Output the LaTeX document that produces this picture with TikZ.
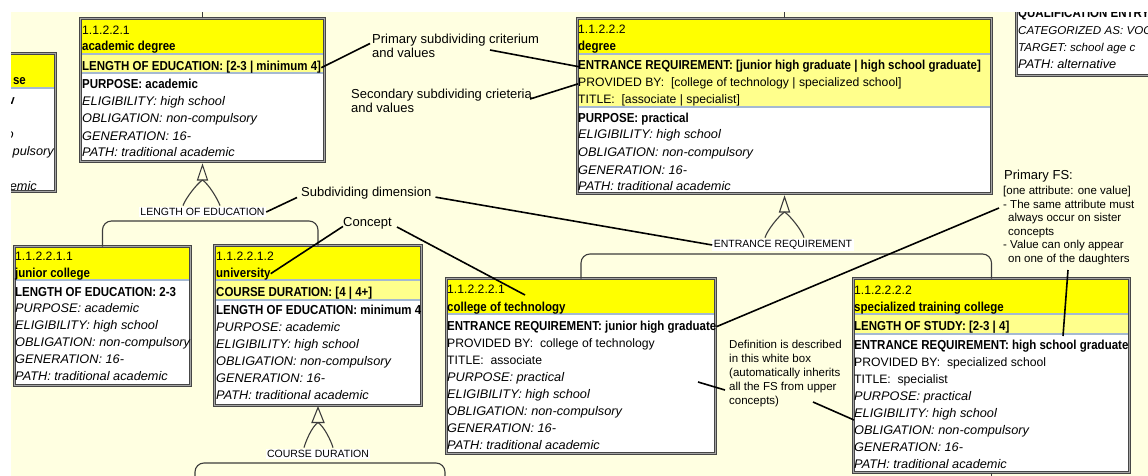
\documentclass[tikz,border=0pt]{standalone}
\usepackage{fontspec}
\setmainfont{Liberation Sans}
\newfontfamily\boldfam[FakeStretch=0.885]{Liberation Sans}
\newfontfamily\italfam[FakeStretch=1.02]{Liberation Sans}
\usetikzlibrary{fit,calc}
\definecolor{bgc}{RGB}{255,255,225}
\definecolor{hdrc}{RGB}{255,255,0}
\definecolor{bandc}{RGB}{255,255,140}
\definecolor{sepc}{RGB}{165,185,210}
\definecolor{framec}{RGB}{70,70,70}
\definecolor{framein}{RGB}{165,165,165}
\definecolor{treec}{RGB}{60,60,60}
\tikzset{
 txr/.style={anchor=base west, inner sep=0pt, font=\fontsize{12.2}{14}\selectfont},
 txb/.style={anchor=base west, inner sep=0pt, font=\boldfam\fontsize{13}{15}\selectfont\bfseries},
 txi/.style={anchor=base west, inner sep=0pt, font=\italfam\fontsize{12.5}{15}\selectfont\itshape},
 txis/.style={anchor=base west, inner sep=0pt, font=\italfam\fontsize{11.4}{15}\selectfont\itshape},
 ann/.style={anchor=base west, inner sep=0pt, font=\fontsize{13}{15}\selectfont},
 annsm/.style={anchor=base west, inner sep=0pt, font=\fontsize{11.5}{14}\selectfont},
 lbl/.style={fill=white, inner sep=1.5pt, font=\fontsize{10.5}{12}\selectfont},
 frame/.style={draw=framec, double=framein, double distance=1.2pt, line width=0.9pt, inner sep=-1.5pt, outer sep=0pt, rectangle},
 sepline/.style={draw=sepc, line width=1.3pt},
 tree/.style={draw=treec, line width=1.1pt},
 ptr/.style={draw=black, line width=1.6pt},
}
\newcommand\conceptbox[7]{%
 \fill[white] (#2,#3) rectangle (#4,#5);
 \fill[hdrc] (#2,#3) rectangle (#4,#6);
 \fill[bandc] (#2,#6) rectangle (#4,#7);
 \draw[sepline] (#2,#6) -- (#4,#6);
 \draw[sepline] (#2,#7) -- (#4,#7);
 \node[frame, fit={(#2,#3) (#4,#5)}] (#1) {};
}
\begin{document}
\begin{tikzpicture}[x=1pt,y=-1pt]
\useasboundingbox (0,0) rectangle (1148,476);
\fill[white] (0,0) rectangle (1148,476);
\begin{scope}
\clip (11,13) rectangle (1148,476);
\fill[bgc] (0,0) rectangle (1148,476);
\coordinate (top) at (0,0);
\coordinate (bot) at (0,490);

% ---------- left partial box
\conceptbox{L}{-100}{52}{57}{193}{88}{88}
\node[txb, anchor=base east] (L1) at (26,85) {se};
\node[txb, anchor=base east] (L2) at (15,105) {v};
\node[txi, anchor=base east] (L3) at (14,139) {o};
\node[txi, anchor=base east] (L4) at (54,156) {pulsory};
\node[txi, anchor=base east] (L5) at (37,190) {emic};

% ---------- top right partial box
\conceptbox{Q}{1015}{-40}{1220}{77}{-20}{-20}
\node[txb] (Q1) at (1018,18) {QUALIFICATION ENTRY};
\node[txis] (Q2) at (1018,35) {CATEGORIZED AS: VOC};
\node[txis] (Q3) at (1018,52) {TARGET: school age c};
\node[txi] (Q4) at (1018,69) {PATH: alternative};

% ---------- box A
\conceptbox{A}{79}{17}{326}{163}{54}{73}
\node[txr] (A1) at (82,35) {1.1.2.2.1};
\node[txb] (A2) at (82,51) {academic degree};
\node[txb] (A3) at (82,71) {LENGTH OF EDUCATION: [2-3 | minimum 4]};
\node[txb] (A4) at (82,89) {PURPOSE: academic};
\node[txi] (A5) at (82,106) {ELIGIBILITY: high school};
\node[txi] (A6) at (82,123) {OBLIGATION: non-compulsory};
\node[txi] (A7) at (82,140) {GENERATION: 16-};
\node[txi] (A8) at (82,157) {PATH: traditional academic};

% ---------- box B
\conceptbox{B}{576}{17}{993}{195}{54}{107}
\node[txr] (B1) at (578,34) {1.1.2.2.2};
\node[txb] (B2) at (578,51) {degree};
\node[txb] (B3) at (578,70) {ENTRANCE REQUIREMENT: [junior high graduate | high school graduate]};
\node[txr] (B4) at (578,87) {PROVIDED BY:\ \ [college of technology | specialized school]};
\node[txr] (B5) at (578,104) {TITLE:\ \ [associate | specialist]};
\node[txb] (B6) at (578,123) {PURPOSE: practical};
\node[txi] (B7) at (578,139) {ELIGIBILITY: high school};
\node[txi] (B8) at (578,157) {OBLIGATION: non-compulsory};
\node[txi] (B9) at (578,174) {GENERATION: 16-};
\node[txi] (B10) at (578,190) {PATH: traditional academic};

% ---------- box C
\conceptbox{C}{445}{277}{717}{455}{314}{314}
\node[txr] (C1) at (447,293) {1.1.2.2.2.1};
\node[txb] (C2) at (447,311) {college of technology};
\node[txb] (C3) at (447,330) {ENTRANCE REQUIREMENT: junior high graduate};
\node[txr] (C4) at (447,347) {PROVIDED BY:\ \ college of technology};
\node[txr] (C5) at (447,364) {TITLE:\ \ associate};
\node[txi] (C6) at (447,381) {PURPOSE: practical};
\node[txi] (C7) at (447,398) {ELIGIBILITY: high school};
\node[txi] (C8) at (447,415) {OBLIGATION: non-compulsory};
\node[txi] (C9) at (447,432) {GENERATION: 16-};
\node[txi] (C10) at (447,449) {PATH: traditional academic};

% ---------- box D
\conceptbox{D}{852}{277}{1131}{474}{314}{334}
\node[txr] (D1) at (854,294) {1.1.2.2.2.2};
\node[txb] (D2) at (854,311) {specialized training college};
\node[txb] (D3) at (854,330) {LENGTH OF STUDY: [2-3 | 4]};
\node[txb] (D4) at (854,349) {ENTRANCE REQUIREMENT: high school graduate};
\node[txr] (D5) at (854,366) {PROVIDED BY:\ \ specialized school};
\node[txr] (D6) at (854,383) {TITLE:\ \ specialist};
\node[txi] (D7) at (854,400) {PURPOSE: practical};
\node[txi] (D8) at (854,417) {ELIGIBILITY: high school};
\node[txi] (D9) at (854,434) {OBLIGATION: non-compulsory};
\node[txi] (D10) at (854,451) {GENERATION: 16-};
\node[txi] (D11) at (854,468) {PATH: traditional academic};

% ---------- box E
\conceptbox{E}{13}{245}{192}{387}{280}{280}
\node[txr] (E1) at (15,260) {1.1.2.2.1.1};
\node[txb] (E2) at (15,277) {junior college};
\node[txb] (E3) at (15,296) {LENGTH OF EDUCATION: 2-3};
\node[txi] (E4) at (15,312) {PURPOSE: academic};
\node[txi] (E5) at (15,329) {ELIGIBILITY: high school};
\node[txi] (E6) at (15,346) {OBLIGATION: non-compulsory};
\node[txi] (E7) at (15,363) {GENERATION: 16-};
\node[txi] (E8) at (15,380) {PATH: traditional academic};

% ---------- box F
\conceptbox{F}{213}{244}{423}{407}{280}{300}
\node[txr] (F1) at (216,260) {1.1.2.2.1.2};
\node[txb] (F2) at (216,277) {university};
\node[txb] (F3) at (216,296) {COURSE DURATION: [4 | 4+]};
\node[txb] (F4) at (216,314) {LENGTH OF EDUCATION: minimum 4};
\node[txi] (F5) at (216,331) {PURPOSE: academic};
\node[txi] (F6) at (216,348) {ELIGIBILITY: high school};
\node[txi] (F7) at (216,365) {OBLIGATION: non-compulsory};
\node[txi] (F8) at (216,382) {GENERATION: 16-};
\node[txi] (F9) at (216,399) {PATH: traditional academic};

% ---------- tree connectors
\draw[tree] (A.north) -- (A.north |- top);
\draw[tree] (B.north) -- (B.north |- top);
\draw[tree] (D.south) -- (D.south |- bot);

% length of education
\node[lbl] (lA) at (202.5,212) {LENGTH OF EDUCATION};
\draw[tree] ($(A.south)+(0,3.5)$) -- ++(-5,15) -- ++(10,0) -- cycle;
\coordinate (tA) at ($(A.south)+(0,18.5)$);
\draw[tree] (tA) .. controls ($(tA)+(-6,4)$) and ($(lA.north)+(-17,-8)$) .. ($(lA.north)+(-19.5,-1)$);
\draw[tree] (tA) .. controls ($(tA)+(6,4)$) and ($(lA.north)+(15,-8)$) .. ($(lA.north)+(17.5,-1)$);
\coordinate (hA) at (0,221);
\draw[tree, rounded corners=9pt] (E.north) -- (E.north |- hA) -- (F.north |- hA) -- (F.north);

% entrance requirement
\node[lbl] (lB) at (783,245) {ENTRANCE REQUIREMENT};
\draw[tree] ($(B.south)+(0,3.5)$) -- ++(-5,15) -- ++(10,0) -- cycle;
\coordinate (tB) at ($(B.south)+(0,18.5)$);
\draw[tree] (tB) .. controls ($(tB)+(-6,4)$) and ($(lB.north)+(-16,-8)$) .. ($(lB.north)+(-18,-1)$);
\draw[tree] (tB) .. controls ($(tB)+(6,4)$) and ($(lB.north)+(19,-8)$) .. ($(lB.north)+(21,-1)$);
\coordinate (hB) at (0,254);
\draw[tree, rounded corners=9pt] (C.north) -- (C.north |- hB) -- (D.north |- hB) -- (D.north);

% course duration
\node[lbl] (lF) at (318,454) {COURSE DURATION};
\draw[tree] ($(F.south)+(0,2)$) -- ++(-6,15) -- ++(12,0) -- cycle;
\coordinate (tF) at ($(F.south)+(0,17)$);
\draw[tree] (tF) .. controls ($(tF)+(-6,4)$) and ($(lF.north)+(-12,-8)$) .. ($(lF.north)+(-14,-1)$);
\draw[tree] (tF) .. controls ($(tF)+(6,4)$) and ($(lF.north)+(13,-8)$) .. ($(lF.north)+(15,-1)$);
\coordinate (cdl) at (195,490);
\coordinate (cdr) at (445,490);
\coordinate (hF) at (0,463);
\draw[tree, rounded corners=9pt] (cdl) -- (cdl |- hF) -- (cdr |- hF) -- (cdr);

% ---------- annotations
\node[ann] (n1a) at (372,43.5) {Primary subdividing criterium};
\node[ann] (n1b) at (372,57.5) {and values};
\node[ann] (n2a) at (351,99) {Secondary subdividing crieteria};
\node[ann] (n2b) at (351,113) {and values};
\node[ann] (n3) at (301,196.5) {Subdividing dimension};
\node[ann] (n4) at (343,226.5) {Concept};

\node[ann] (n5a) at (1004,179) {Primary FS:};
\node[annsm] (n5b) at (1003,194.5) {[one attribute: one value]};
\node[annsm] (n5c) at (1003,208) {- The same attribute must};
\node[annsm] (n5d) at (1008,221.5) {always occur on sister};
\node[annsm] (n5e) at (1008,235) {concepts};
\node[annsm] (n5f) at (1003,248.5) {- Value can only appear};
\node[annsm] (n5g) at (1008,262) {on one of the daughters};

\node[annsm] (n6a) at (729,348) {Definition is described};
\node[annsm] (n6b) at (729,362) {in this white box};
\node[annsm] (n6c) at (729,376) {(automatically inherits};
\node[annsm] (n6d) at (729,390) {all the FS from upper};
\node[annsm] (n6e) at (729,404) {concepts)};

\coordinate (s2) at (490,50);
\coordinate (s7) at (397,227);
\coordinate (e7) at (525,295);
\coordinate (s8) at (999,208);
\coordinate (s9) at (1068,270);
\coordinate (e9) at (1063,336);
\coordinate (e10) at (698,382);
\coordinate (s11) at (813,402);
\coordinate (e11) at (854,420);

\draw[ptr] ([xshift=-2pt]n1a.base west) -- (A3.east);
\draw[ptr] (s2) -- ([xshift=1pt]B3.west);
\draw[ptr] ([xshift=-2pt]n2a.base east) -- (B4.west);
\draw[ptr] ([xshift=-4pt,yshift=-1pt]n3.base west) -- (lA.east);
\draw[ptr] ([xshift=4pt,yshift=-4pt]n3.east) -- (lB.west);
\draw[ptr] ([xshift=0pt,yshift=3pt]n4.south west) -- (F2.east);
\draw[ptr] (s7) -- (e7);
\draw[ptr] (s8) -- (C3.east);
\draw[ptr] (s9) -- (e9);
\draw[ptr] ([xshift=-4pt,yshift=-3pt]n6d.west) -- (e10);
\draw[ptr] (s11) -- (e11);
\end{scope}
\end{tikzpicture}
\end{document}
